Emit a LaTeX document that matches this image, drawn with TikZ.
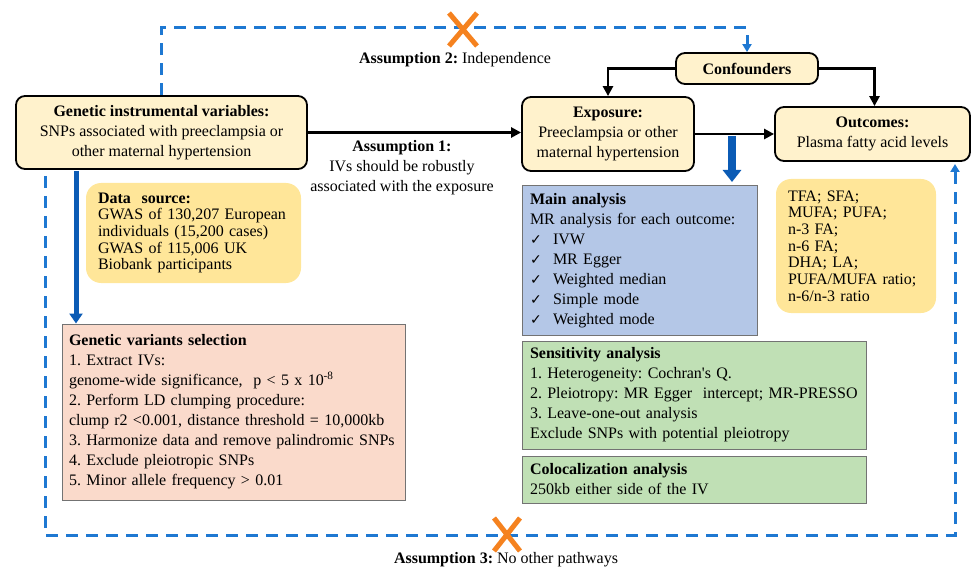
\documentclass[tikz,border=0pt]{standalone}
\usepackage{fontspec}
\setmainfont{Liberation Serif}
\newfontfamily\tnr{Liberation Serif}
\newfontfamily\symf{DejaVu Sans}
\usetikzlibrary{arrows.meta,calc}
\definecolor{lyel}{HTML}{FFF2CC}
\definecolor{dyel}{HTML}{FFE699}
\definecolor{mblue}{HTML}{B4C7E7}
\definecolor{peach}{HTML}{FADACB}
\definecolor{lgreen}{HTML}{C0E0B5}
\definecolor{dashblue}{HTML}{1E78D2}
\definecolor{solblue}{HTML}{0B5BB5}
\definecolor{xorange}{HTML}{F5821F}
\newcommand{\ck}{\makebox[23pt][l]{{\symf\fontsize{14}{20}\selectfont ✓}}}
\tikzset{
  txt/.style={font=\tnr\frenchspacing\fontsize{16}{20}\selectfont},
  rbox/.style={draw=black, line width=1.8pt, rounded corners=9pt, fill=lyel, align=center, inner xsep=6pt, txt},
  sbox/.style={draw=black!55, line width=1pt, align=left, inner xsep=8pt, txt},
  ybox/.style={fill=dyel, rounded corners=15pt, align=left, inner xsep=12pt, font=\tnr\frenchspacing\fontsize{16}{16.7}\selectfont},
  blk/.style={line width=2.5pt, -{Triangle[length=10pt,width=10pt]}},
  dsh/.style={dashblue, line width=3pt, dash pattern=on 12pt off 8pt},
  xmark/.style={xorange, line width=5pt}
}
\begin{document}
\begin{tikzpicture}[x=1pt,y=-1pt]
\useasboundingbox (0,0) rectangle (971,569);

% main nodes
\node[rbox, minimum width=291pt, minimum height=73pt] (giv) at (161.5,132.5)
  {\textbf{Genetic instrumental variables:}\\SNPs associated with preeclampsia or\\other maternal hypertension};
\node[rbox, minimum width=172pt, minimum height=74pt] (expo) at (608,134)
  {\textbf{Exposure:}\\Preeclampsia or other\\maternal hypertension};
\node[rbox, minimum width=142pt, minimum height=31pt, inner ysep=0pt] (conf) at (747,68.5)
  {\textbf{Confounders}};
\node[rbox, minimum width=195pt, minimum height=54pt] (out) at (872.5,134)
  {\textbf{Outcomes:}\\Plasma fatty acid levels};

% info boxes
\node[ybox, minimum width=215pt, minimum height=100pt, text width=191pt] (ds) at (193.5,233)
  {\textbf{Data\ \ source:}\\GWAS of 130,207 European\\individuals (15,200 cases)\\GWAS of 115,006 UK\\Biobank participants};
\node[ybox, minimum width=160pt, minimum height=134pt, text width=136pt] (fa) at (856,246)
  {TFA; SFA;\\MUFA; PUFA;\\n-3 FA;\\n-6 FA;\\DHA; LA;\\PUFA/MUFA ratio;\\n-6/n-3 ratio};
\node[sbox, fill=mblue, minimum width=235pt, minimum height=149pt, text width=219pt] (main) at (639.5,260.5)
  {\textbf{Main analysis}\\MR analysis for each outcome:\\\ck IVW\\\ck MR Egger\\\ck Weighted median\\\ck Simple mode\\\ck Weighted mode};
\node[sbox, fill=peach, minimum width=343pt, minimum height=176pt, text width=329pt, inner xsep=7pt] (gv) at (233.5,412)
  {\textbf{Genetic variants selection}\\1. Extract IVs:\\genome-wide significance,\ \ p {\textless} 5 x 10\textsuperscript{-8}\\2. Perform LD clumping procedure:\\clump r2 {\textless}0.001, distance threshold = 10,000kb\\3. Harmonize data and remove palindromic SNPs\\4. Exclude pleiotropic SNPs\\5. Minor allele frequency {\textgreater} 0.01};
\node[sbox, fill=lgreen, minimum width=344pt, minimum height=108pt, text width=328pt] (sens) at (694,395)
  {\textbf{Sensitivity analysis}\\1. Heterogeneity: Cochran's Q.\\2. Pleiotropy: MR Egger\ \ intercept; MR-PRESSO\\3. Leave-one-out analysis\\Exclude SNPs with potential pleiotropy};
\node[sbox, fill=lgreen, minimum width=344pt, minimum height=47pt, text width=328pt] (coloc) at (694,479.5)
  {\textbf{Colocalization analysis}\\250kb either side of the IV};

% labels
\node[txt, align=center] (a1) at (402,168) {\textbf{Assumption 1:}\\IVs should be robustly\\associated with the exposure};
\node[txt] (a2) at (455,60) {\textbf{Assumption 2:} Independence};
\node[txt] (a3) at (506,560) {\textbf{Assumption 3:} No other pathways};

% black connectors
\draw[blk] (giv.east) -- (giv.east -| expo.west);
\draw[blk] (expo.east) -- (expo.east -| out.west);
\draw[blk] (conf.west) -| (expo.north);
\draw[blk] (conf.east) -| ($(out.north)+(2,0)$);

% blue solid arrows
\coordinate (bstart) at (732,136);
\coordinate (bend) at (732,182);
\draw[solblue, line width=8pt, -{Triangle[length=12pt,width=18pt]}] (bstart) -- (bend);
\coordinate (gvs) at (76,171);
\draw[solblue, line width=5pt, -{Triangle[length=10pt,width=13pt]}] (gvs) -- (gvs |- gv.north);

% dashed assumption paths
\coordinate (topc) at (747,28);
\draw[dsh, -{Triangle[length=8pt,width=9pt]}] (giv.north) |- (topc) -- (conf.north);
\coordinate (bl0) at (45,176);
\coordinate (blc) at (45,535);
\coordinate (brc) at (955,535);
\coordinate (rin) at (955,161);
\draw[dsh, shorten >=3pt, -{Triangle[length=8pt,width=9pt]}] (bl0) -- (blc) -- (brc) -- (rin);

% orange crosses
\draw[xmark] (449,13) -- (477,46) (477,13) -- (449,46);
\draw[xmark] (494,518) -- (520,551) (520,518) -- (494,551);
\end{tikzpicture}
\end{document}
